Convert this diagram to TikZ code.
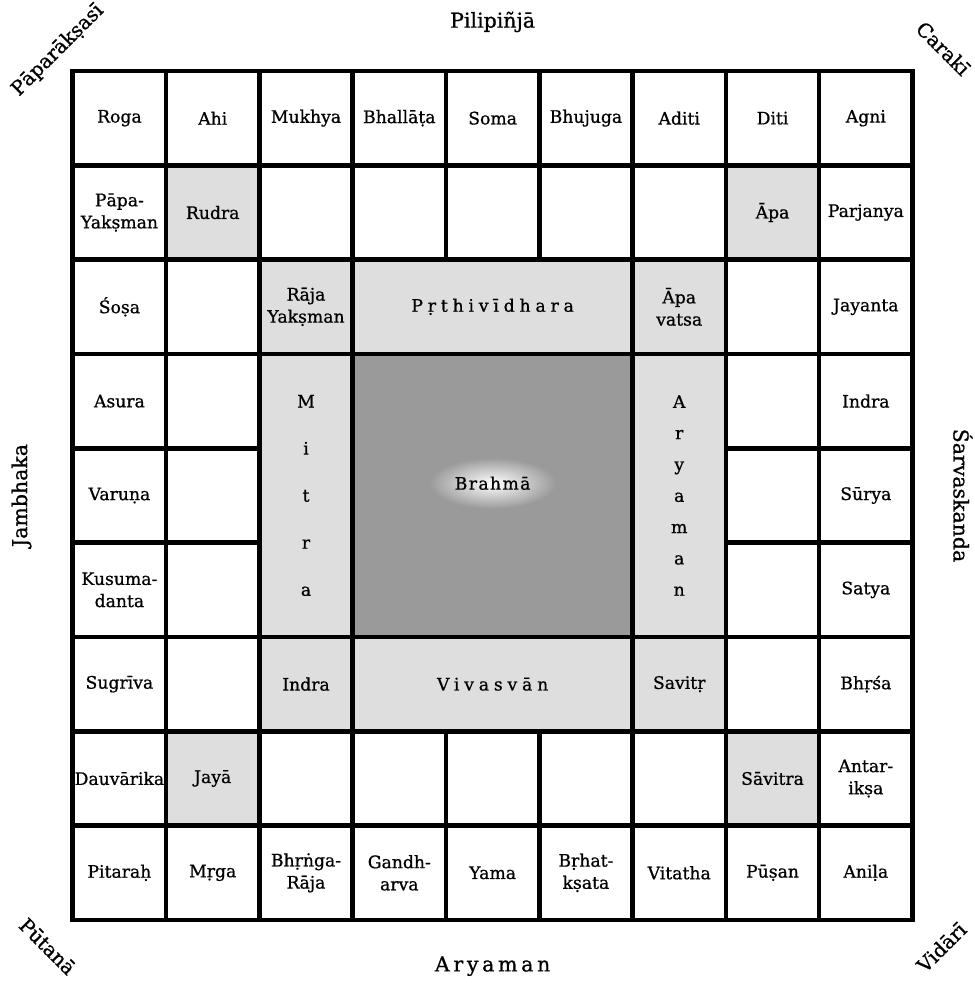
\documentclass[tikz,border=0pt]{standalone}
\usepackage{fontspec}
\setmainfont{DejaVu Serif}
\newfontfamily\padafont[FakeBold=0.8]{DejaVu Serif}
\newfontfamily\spacedfont[FakeBold=0.8,LetterSpace=28]{DejaVu Serif}
\newfontfamily\brahmafont[FakeBold=0.8,LetterSpace=8]{DejaVu Serif}
\newfontfamily\edgefont[FakeBold=0.9]{DejaVu Serif}
\newfontfamily\edgespaced[FakeBold=0.9,LetterSpace=18]{DejaVu Serif}
\usepackage{xcolor}
\definecolor{padagrey}{HTML}{DEDEDE}
\definecolor{brahmagrey}{HTML}{9A9A9A}

\tikzset{
  pada/.style={draw, line width=2.8pt, minimum width=2cm, minimum height=2.022cm,
    inner sep=0pt, align=center, font=\padafont\fontsize{10.5}{13.5}\selectfont},
  deva/.style={pada, fill=padagrey},
  wide/.style={font=\spacedfont\fontsize{10.5}{13.5}\selectfont},
  edge/.style={font=\edgefont\fontsize{12.5}{15}\selectfont},
  corner/.style={font=\edgefont\fontsize{12}{14}\selectfont},
}

\begin{document}
\begin{tikzpicture}[x=2cm,y=2.022cm]
  \fill[white] (-0.78,-0.668) rectangle (9.66,9.753);
  \useasboundingbox (-0.78,-0.668) rectangle (9.66,9.753);

  % row 1
  \foreach \t [count=\c] in {Roga,Ahi,Mukhya,Bhallāṭa,Soma,Bhujuga,Aditi,Diti,Agni}
    \node[pada] (a\c) at (\c-0.5,8.5) {\t};
  % row 2
  \foreach \s/\t [count=\c] in {pada/Pāpa-\\Yakṣman,deva/Rudra,pada/,pada/,pada/,pada/,pada/,deva/Āpa,pada/Parjanya}
    \node[\s] (b\c) at (\c-0.5,7.5) {\t};
  % row 3
  \foreach \s/\t [count=\c] in {pada/Śoṣa,pada/,deva/Rāja\\Yakṣman}
    \node[\s] (c\c) at (\c-0.5,6.5) {\t};
  \node[deva, wide, minimum width=6cm] (prthivi) at (4.5,6.5) {Pṛthivīdhara};
  \foreach \s/\t [count=\c from 7] in {deva/Āpa\\vatsa,pada/,pada/Jayanta}
    \node[\s] (c\c) at (\c-0.5,6.5) {\t};

  % rows 4 to 6, outer columns
  \foreach \t [count=\r from 4] in {Asura,Varuṇa,Kusuma-\\danta} {
    \node[pada] (w\r) at (0.5,9.5-\r) {\t};
    \node[pada] (x\r) at (1.5,9.5-\r) {};
  }
  \foreach \t [count=\r from 4] in {Indra,Sūrya,Satya} {
    \node[pada] (y\r) at (7.5,9.5-\r) {};
    \node[pada] (z\r) at (8.5,9.5-\r) {\t};
  }
  \node[deva, minimum height=6.066cm, font=\padafont\fontsize{10.5}{28.7}\selectfont] (mitra) at (2.5,4.5) {M\\i\\t\\r\\a};
  \node[deva, minimum height=6.066cm, font=\padafont\fontsize{10.5}{19.1}\selectfont] (aryaman) at (6.5,4.5) {A\\r\\y\\a\\m\\a\\n};

  % Brahma
  \node[pada, fill=brahmagrey, minimum width=6cm, minimum height=6.066cm] (brahma) at (4.5,4.5) {};
  \shade[inner color=white, outer color=brahmagrey] (4.5,4.63) ellipse [x radius=0.68, y radius=0.27];
  \node[font=\brahmafont\fontsize{10.5}{13.5}\selectfont] (brahmaname) at (4.5,4.63) {Brahmā};

  % row 7
  \foreach \s/\t [count=\c] in {pada/Sugrīva,pada/,deva/Indra}
    \node[\s] (g\c) at (\c-0.5,2.5) {\t};
  \node[deva, wide, minimum width=6cm] (vivasvan) at (4.5,2.5) {Vivasvān};
  \foreach \s/\t [count=\c from 7] in {deva/Savitṛ,pada/,pada/Bhṛśa}
    \node[\s] (g\c) at (\c-0.5,2.5) {\t};
  % row 8
  \foreach \s/\t [count=\c] in {pada/Dauvārika,deva/Jayā,pada/,pada/,pada/,pada/,pada/,deva/Sāvitra,pada/Antar-\\ikṣa}
    \node[\s] (h\c) at (\c-0.5,1.5) {\t};
  % row 9
  \foreach \t [count=\c] in {Pitaraḥ,Mṛga,Bhṛṅga-\\Rāja,Gandh-\\arva,Yama,Bṛhat-\\kṣata,Vitatha,Pūṣan,Aniḷa}
    \node[pada] (i\c) at (\c-0.5,0.5) {\t};

  % outside the square
  \node[edge] (north) at (4.5,9.52) {Pilipiñjā};
  \node[edge, font=\edgespaced\fontsize{12.5}{15}\selectfont] (south) at (4.5,-0.49) {Aryaman};
  \node[edge, rotate=90] (west) at (-0.55,4.5) {Jambhaka};
  \node[edge, rotate=-90] (east) at (9.54,4.5) {Śarvaskanda};
  \node[corner, rotate=45] (nw) at (-0.16,9.22) {Pāparākṣasī};
  \node[corner, rotate=-45] (ne) at (9.33,9.24) {Carakī};
  \node[corner, rotate=-45] (sw) at (-0.27,-0.28) {Pūtanā};
  \node[corner, rotate=45] (se) at (9.31,-0.29) {Vidārī};
\end{tikzpicture}
\end{document}
